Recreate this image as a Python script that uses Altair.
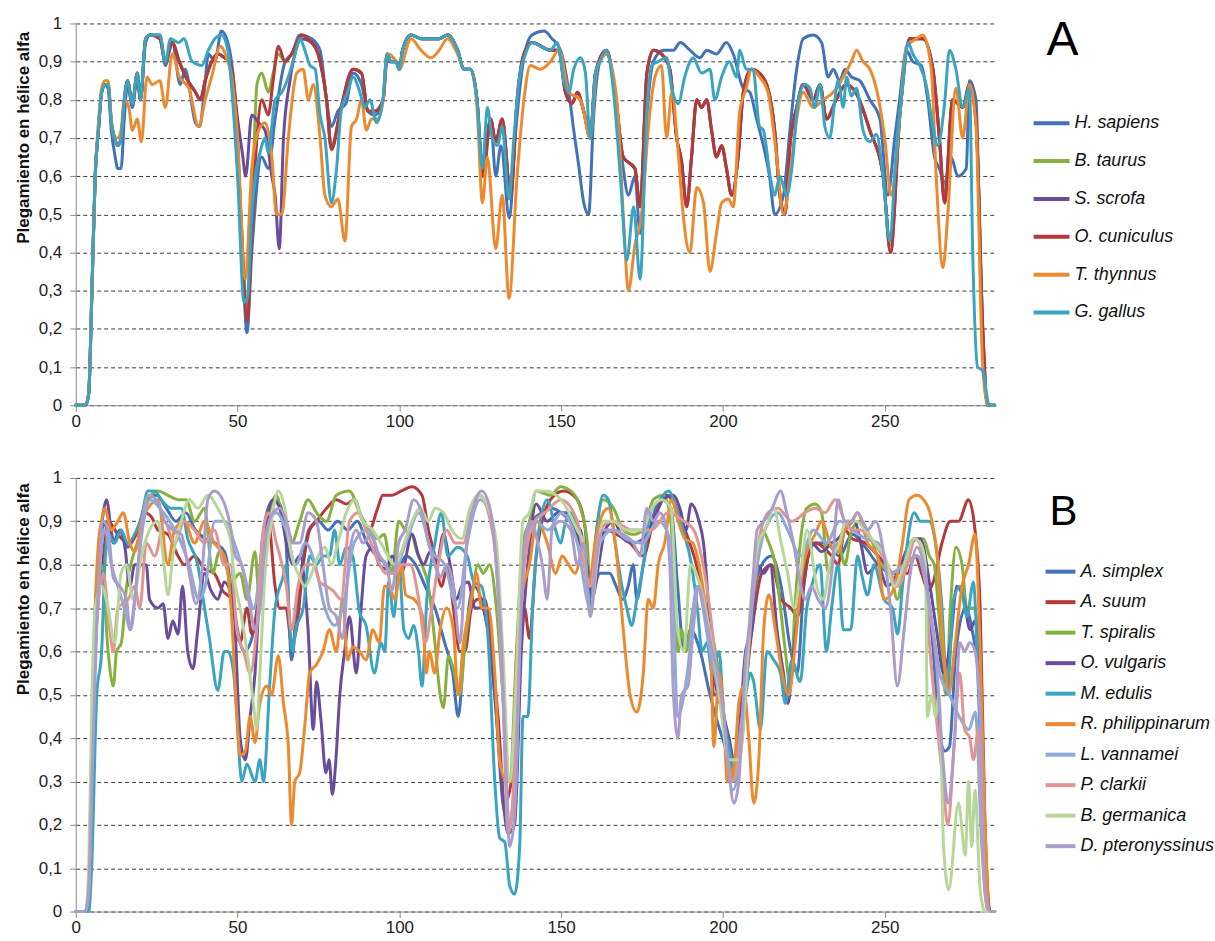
import altair as alt
import pandas as pd

Y_TITLE = "Plegamiento en hélice alfa"
X_TICKS = [0, 50, 100, 150, 200, 250]
Y_TICKS = [0, 0.1, 0.2, 0.3, 0.4, 0.5, 0.6, 0.7, 0.8, 0.9, 1]
X_MAX = 284

NAMES_A = ["H. sapiens", "B. taurus", "S. scrofa", "O. cuniculus", "T. thynnus", "G. gallus"]
COLORS_A = ["#4472B8", "#86B13F", "#6A4C9C", "#B5393A", "#EB8A2F", "#3AA4C1"]

NAMES_B = ["A. simplex", "A. suum", "T. spiralis", "O. vulgaris", "M. edulis",
           "R. philippinarum", "L. vannamei", "P. clarkii", "B. germanica", "D. pteronyssinus"]
COLORS_B = ["#4472B8", "#B5393A", "#86B13F", "#6A4C9C", "#3AA4C1",
            "#EB8A2F", "#8FAAD8", "#E29491", "#B6D69A", "#AC9CCC"]

# ---------------- Panel A ----------------
H_SAPIENS = [(0,0),(3,0),(4,0.03),(5,0.3),(6,0.6),(7,0.72),(8,0.82),(9,0.84),(10,0.83),(11,0.72),(12,0.66),(13,0.62),(14,0.62),(15,0.75),(16,0.84),(17.5,0.78),(19,0.86),(20,0.8),(21.6,0.95),(23,0.97),(26,0.97),(27.7,0.89),(29.8,0.95),(32.3,0.84),(33.8,0.88),(37,0.74),(38.3,0.73),(39.8,0.83),(41,0.92),(43,0.9),(45,0.98),(47,0.95),(49.3,0.8),(51.3,0.45),(52.9,0.19),(54.4,0.4),(57.5,0.65),(59.5,0.62),(61.6,0.75),(64.7,0.9),(66.7,0.92),(69.3,0.97),(72.9,0.96),(75.5,0.93),(77.5,0.8),(79,0.73),(81,0.77),(83.5,0.79),(85.7,0.87),(88.3,0.84),(90.3,0.77),(92.4,0.76),(95,0.8),(96.2,0.9),(97.4,0.9),(99,0.9),(100,0.88),(101,0.93),(103.6,0.97),(106.7,0.96),(109.8,0.96),(112.3,0.96),(114.9,0.97),(118,0.93),(120,0.88),(122,0.88),(124,0.8),(126,0.6),(128.2,0.75),(129.8,0.6),(131.4,0.68),(134,0.49),(136,0.72),(138.5,0.91),(141,0.97),(144.7,0.98),(147.2,0.96),(149.8,0.93),(152.4,0.82),(153.9,0.72),(155.4,0.63),(157,0.53),(158.5,0.5),(160,0.75),(162,0.9),(164,0.92),(167.2,0.78),(169.2,0.62),(170.8,0.55),(172.8,0.6),(174.4,0.45),(176.5,0.76),(178.5,0.9),(181.6,0.93),(184.7,0.93),(186.8,0.95),(189.8,0.93),(192.9,0.91),(195,0.93),(198,0.92),(201.1,0.95),(203.2,0.92),(206.3,0.83),(208.3,0.82),(210.4,0.75),(212.5,0.68),(214.4,0.6),(216,0.5),(218.7,0.55),(220.7,0.72),(222.8,0.88),(224.8,0.96),(227.9,0.97),(230.5,0.95),(232.5,0.86),(234.1,0.88),(236.1,0.85),(237.7,0.88),(239.7,0.86),(242.3,0.85),(245.4,0.8),(248.5,0.75),(251,0.55),(253.1,0.7),(254.6,0.8),(256.7,0.93),(258.7,0.9),(261.3,0.89),(263.3,0.8),(265.4,0.65),(266.9,0.62),(268.5,0.58),(270.5,0.65),(272.6,0.6),(275.2,0.62),(276.2,0.85),(278.2,0.8),(279.8,0.28),(281.3,0.02),(282.3,0),(284,0)]

B_TAURUS = [(0,0),(3,0),(4,0.03),(5,0.3),(6,0.6),(7,0.72),(8,0.82),(9,0.84),(10,0.84),(11,0.74),(12,0.7),(13,0.68),(14,0.7),(15,0.8),(16,0.85),(17.5,0.79),(19,0.87),(20,0.8),(21.6,0.96),(23,0.97),(26,0.96),(27.7,0.9),(29.8,0.95),(32,0.9),(34,0.86),(37,0.82),(38.5,0.8),(40,0.85),(42,0.9),(44,0.92),(46,0.91),(47.5,0.9),(49.3,0.8),(51,0.5),(53,0.24),(54.4,0.5),(56,0.84),(57.5,0.87),(59.5,0.82),(61,0.87),(62.6,0.92),(64.7,0.9),(66.7,0.92),(69.8,0.97),(72.9,0.95),(74.9,0.92),(77.5,0.8),(79,0.68),(82,0.78),(85.7,0.88),(88.3,0.87),(90.3,0.77),(92.4,0.77),(95,0.8),(96.2,0.92),(99,0.9),(100,0.88),(101,0.93),(103.6,0.97),(106.7,0.96),(109.8,0.96),(112.3,0.96),(114.9,0.97),(118,0.93),(120,0.88),(122,0.88),(124,0.8),(125.7,0.6),(128.2,0.75),(129.8,0.69),(131.8,0.75),(134.4,0.55),(136.4,0.8),(138.5,0.92),(141,0.95),(146.7,0.93),(149.3,0.93),(151.3,0.82),(153.4,0.79),(155,0.82),(157,0.77),(159,0.7),(160.6,0.87),(164,0.93),(166.7,0.82),(169.2,0.65),(172.8,0.62),(174.4,0.52),(176.5,0.87),(178.5,0.93),(181,0.92),(183.6,0.88),(185.7,0.7),(187.2,0.64),(188.8,0.52),(190.3,0.65),(191.9,0.8),(193.4,0.78),(195,0.8),(196.5,0.72),(198,0.65),(199.6,0.68),(201.1,0.62),(202.7,0.55),(204.7,0.65),(206.3,0.82),(208.8,0.88),(211.3,0.87),(213.9,0.83),(216,0.72),(217.6,0.55),(219.2,0.5),(220.7,0.68),(222.8,0.78),(224.8,0.84),(227.9,0.8),(230,0.84),(232,0.75),(235,0.8),(238,0.84),(241,0.82),(245.4,0.72),(249.5,0.6),(251.8,0.42),(254.6,0.75),(257.7,0.96),(261.8,0.96),(264.9,0.88),(266.9,0.7),(268.5,0.55),(271,0.8),(274.1,0.78),(276.2,0.84),(278.2,0.75),(280.3,0.2),(281.8,0),(284,0)]

S_SCROFA = [(0,0),(3,0),(4,0.03),(5,0.3),(6,0.6),(7,0.72),(8,0.82),(9,0.84),(10,0.84),(11,0.74),(12,0.7),(13,0.68),(14,0.7),(15,0.8),(16,0.85),(17.5,0.79),(19,0.87),(20,0.8),(21.6,0.96),(23,0.97),(26,0.96),(27.7,0.9),(29.8,0.95),(32,0.9),(34,0.86),(37,0.82),(38.5,0.8),(40,0.85),(42,0.9),(44,0.92),(46,0.91),(47.5,0.9),(49.3,0.8),(50.3,0.73),(51.5,0.66),(52.5,0.6),(54.4,0.76),(56.5,0.74),(58.5,0.72),(60.6,0.6),(61.6,0.55),(62.9,0.41),(64.2,0.7),(66.2,0.85),(68,0.93),(69.8,0.96),(72.9,0.95),(74.9,0.92),(77.5,0.8),(79,0.67),(82,0.78),(85.7,0.88),(88.3,0.87),(90.3,0.77),(92.4,0.77),(95,0.8),(96.2,0.92),(97.4,0.9),(99,0.9),(100,0.88),(101,0.93),(103.6,0.97),(106.7,0.96),(109.8,0.96),(112.3,0.96),(114.9,0.97),(118,0.93),(120,0.88),(122,0.88),(124,0.8),(125.7,0.6),(128.2,0.75),(129.8,0.69),(131.8,0.75),(134.4,0.55),(136.4,0.8),(138.5,0.92),(141,0.95),(146.7,0.93),(149.3,0.93),(151.3,0.82),(153.4,0.79),(155,0.82),(157,0.77),(159,0.7),(160.6,0.87),(164,0.93),(166.7,0.82),(169.2,0.65),(172.8,0.62),(174.4,0.52),(176.5,0.87),(178.5,0.93),(181,0.92),(183.6,0.88),(185.7,0.7),(187.2,0.64),(188.8,0.52),(190.3,0.65),(191.9,0.8),(193.4,0.78),(195,0.8),(196.5,0.72),(198,0.65),(199.6,0.68),(201.1,0.62),(202.7,0.55),(204.7,0.65),(206.3,0.82),(208.8,0.88),(211.3,0.87),(213.9,0.83),(216,0.72),(217.6,0.55),(219.2,0.5),(220.7,0.68),(222.8,0.78),(224.8,0.84),(227.9,0.8),(230,0.84),(232,0.75),(235,0.8),(238,0.84),(241,0.82),(245.4,0.72),(249.5,0.6),(251.8,0.4),(254.6,0.75),(257.7,0.96),(261.8,0.96),(264.9,0.88),(266.9,0.7),(268.5,0.53),(271,0.8),(274.1,0.78),(276.2,0.84),(278.2,0.75),(280.3,0.2),(281.8,0),(284,0)]

O_CUNICULUS = [(0,0),(3,0),(4,0.03),(5,0.3),(6,0.6),(7,0.72),(8,0.82),(9,0.84),(10,0.84),(11,0.74),(12,0.7),(13,0.68),(14,0.7),(15,0.8),(16,0.85),(17.5,0.79),(19,0.87),(20,0.8),(21.6,0.96),(23,0.97),(26,0.96),(27.7,0.9),(29.8,0.95),(32,0.9),(34,0.86),(37,0.82),(38.5,0.8),(40,0.85),(42,0.9),(44,0.92),(46,0.91),(47.5,0.9),(49.3,0.8),(51,0.5),(53,0.22),(54.4,0.45),(56,0.7),(57.5,0.8),(59.5,0.76),(61,0.85),(62.6,0.94),(64.7,0.9),(66.7,0.92),(69.8,0.97),(72.9,0.95),(74.9,0.92),(77.5,0.8),(79,0.67),(82,0.78),(85.7,0.88),(88.3,0.87),(90.3,0.77),(92.4,0.77),(95,0.8),(96.2,0.92),(97.4,0.9),(99,0.9),(100,0.88),(101,0.93),(103.6,0.97),(106.7,0.96),(109.8,0.96),(112.3,0.96),(114.9,0.97),(118,0.93),(120,0.88),(122,0.88),(124,0.8),(125.7,0.6),(128.2,0.75),(129.8,0.69),(131.8,0.75),(134.4,0.55),(136.4,0.8),(138.5,0.92),(141,0.95),(146.7,0.93),(149.3,0.93),(151.3,0.82),(153.4,0.79),(155,0.82),(157,0.77),(159,0.7),(160.6,0.87),(164,0.93),(166.7,0.82),(169.2,0.65),(172.8,0.62),(174.4,0.52),(176.5,0.87),(178.5,0.93),(181,0.92),(183.6,0.88),(185.7,0.7),(187.2,0.64),(188.8,0.52),(190.3,0.65),(191.9,0.8),(193.4,0.78),(195,0.8),(196.5,0.72),(198,0.65),(199.6,0.68),(201.1,0.62),(202.7,0.55),(204.7,0.65),(206.3,0.82),(208.8,0.88),(211.3,0.87),(213.9,0.83),(216,0.72),(217.6,0.55),(219.2,0.5),(220.7,0.68),(222.8,0.78),(224.8,0.84),(227.9,0.8),(230,0.84),(232,0.75),(235,0.8),(238,0.84),(241,0.82),(245.4,0.72),(249.5,0.6),(251.8,0.4),(254.6,0.75),(257.7,0.96),(261.8,0.96),(264.9,0.88),(266.9,0.7),(268.5,0.53),(271,0.8),(274.1,0.78),(276.2,0.84),(278.2,0.75),(280.3,0.2),(281.8,0),(284,0)]

T_THYNNUS = [(0,0),(3,0),(4,0.03),(5,0.3),(6,0.6),(7,0.74),(8,0.83),(9,0.85),(10,0.85),(11,0.75),(12,0.7),(13,0.7),(14,0.72),(15,0.8),(16.4,0.78),(17.5,0.72),(19,0.75),(20.3,0.69),(22,0.86),(23.6,0.84),(26,0.85),(27.7,0.78),(29.8,0.92),(32,0.86),(35,0.83),(38,0.73),(40,0.8),(42,0.86),(44.7,0.94),(47,0.9),(48,0.87),(50,0.7),(52.4,0.33),(54.4,0.62),(56.5,0.72),(58.5,0.74),(60.6,0.65),(62,0.5),(63.7,0.5),(65.7,0.7),(68.3,0.87),(70.3,0.88),(71.9,0.8),(73.4,0.84),(75.5,0.7),(77,0.55),(79,0.52),(81,0.54),(83.2,0.43),(85.2,0.73),(86.8,0.75),(88.3,0.8),(89.8,0.72),(91.4,0.75),(93.3,0.75),(95,0.8),(96.2,0.92),(99,0.9),(100,0.88),(103.6,0.96),(106.7,0.93),(109.8,0.91),(112.3,0.93),(114.9,0.96),(118,0.92),(120,0.88),(122,0.88),(124,0.78),(125.7,0.53),(127.2,0.65),(129.8,0.41),(131.8,0.55),(133.9,0.28),(136.4,0.6),(138.5,0.8),(140.5,0.89),(143.6,0.88),(146.7,0.9),(149.3,0.93),(152.4,0.82),(156,0.8),(159,0.7),(161,0.88),(164,0.92),(167.2,0.8),(169.2,0.5),(170.8,0.3),(172.8,0.42),(174.9,0.5),(177,0.73),(179,0.86),(181,0.89),(182.6,0.7),(184.2,0.82),(186.2,0.66),(187.7,0.5),(189.8,0.4),(191.9,0.57),(194,0.53),(196,0.35),(198,0.45),(199.6,0.53),(201.7,0.54),(203.2,0.52),(205.2,0.77),(207.2,0.83),(208.8,0.88),(211.3,0.86),(213.9,0.82),(216.6,0.65),(218.7,0.5),(220.7,0.6),(222.8,0.75),(224.8,0.82),(227.9,0.78),(231,0.8),(234.1,0.82),(237.2,0.86),(239.7,0.9),(241.3,0.93),(243.3,0.9),(245.4,0.88),(247.4,0.83),(250,0.7),(252,0.55),(254.6,0.75),(256.7,0.94),(259.8,0.96),(261.8,0.97),(264.4,0.88),(265.9,0.6),(268,0.36),(269.5,0.5),(272,0.83),(274.1,0.7),(276.2,0.84),(278.2,0.73),(280.3,0.1),(282,0),(284,0)]

G_GALLUS = [(0,0),(3,0),(4,0.03),(5,0.3),(6,0.6),(7,0.72),(8,0.82),(9,0.84),(10,0.84),(11,0.74),(12,0.7),(13,0.68),(14,0.7),(15,0.8),(16,0.85),(17.5,0.79),(19,0.87),(20,0.8),(21.6,0.96),(23,0.97),(26,0.97),(27.7,0.9),(29.3,0.96),(31.8,0.95),(33.4,0.96),(36,0.9),(39,0.89),(41,0.93),(43,0.96),(45,0.97),(47,0.93),(48,0.85),(50,0.6),(52,0.27),(53,0.28),(54.4,0.5),(57.5,0.68),(58.5,0.7),(59.5,0.66),(61.6,0.8),(63.7,0.82),(65.7,0.86),(67.8,0.92),(69.3,0.96),(70.8,0.93),(72.4,0.89),(74,0.88),(75.5,0.76),(77,0.7),(79,0.53),(80.6,0.62),(82,0.77),(84,0.82),(85.7,0.86),(87.8,0.82),(89.3,0.78),(90.9,0.8),(93,0.74),(94.9,0.8),(96.2,0.92),(97.4,0.9),(99,0.9),(100,0.88),(101,0.93),(103.6,0.97),(106.7,0.96),(109.8,0.96),(112.3,0.96),(114.9,0.97),(118,0.93),(120,0.88),(122,0.88),(124,0.8),(125.7,0.62),(127.2,0.78),(128.7,0.7),(130.3,0.68),(131.8,0.73),(133.9,0.54),(135.4,0.7),(137,0.85),(139,0.92),(141,0.95),(143.6,0.94),(146.7,0.93),(148.8,0.95),(150.8,0.85),(152.4,0.82),(153.9,0.88),(156,0.91),(157.5,0.87),(159,0.7),(160.6,0.87),(162,0.9),(164,0.93),(166.2,0.82),(168.3,0.6),(170.3,0.38),(172.4,0.52),(174.4,0.33),(176.5,0.77),(178,0.89),(180,0.9),(182.6,0.91),(184.2,0.83),(186.2,0.79),(188.2,0.86),(190.8,0.91),(193.4,0.87),(196,0.88),(197.5,0.8),(199.6,0.86),(202,0.9),(204.2,0.86),(205.2,0.93),(207.2,0.88),(209.3,0.88),(211.3,0.73),(212.5,0.72),(214.6,0.6),(216,0.55),(217.6,0.6),(219.7,0.55),(221.3,0.62),(223.3,0.8),(225.4,0.84),(226.9,0.83),(228.4,0.78),(230,0.84),(231.5,0.73),(233,0.7),(234.6,0.8),(235.6,0.85),(237.2,0.78),(238.2,0.86),(239.7,0.81),(241.3,0.83),(243.3,0.72),(245.4,0.69),(247.4,0.71),(249.5,0.6),(251.5,0.43),(253.6,0.67),(255.6,0.84),(257.2,0.95),(258.7,0.92),(260.8,0.89),(262.8,0.84),(264.9,0.73),(266.4,0.68),(268.5,0.79),(270,0.93),(272,0.88),(274.1,0.78),(276.2,0.83),(277.2,0.4),(278.7,0.1),(280.3,0.09),(282.3,0),(284,0)]

SERIES_A = [H_SAPIENS, B_TAURUS, S_SCROFA, O_CUNICULUS, T_THYNNUS, G_GALLUS]

# ---------------- Panel B ----------------
A_SIMPLEX = [(0,0),(3,0),(4,0.05),(5,0.35),(6,0.65),(7,0.82),(8,0.88),(10,0.9),(12,0.85),(14,0.88),(16,0.84),(18,0.86),(20,0.9),(22,0.95),(25,0.96),(28,0.93),(31,0.9),(34,0.92),(37,0.88),(40,0.86),(43,0.85),(46,0.83),(48,0.75),(50,0.65),(52,0.6),(54,0.62),(56,0.7),(58,0.88),(61,0.95),(63,0.94),(65,0.85),(66.7,0.58),(68,0.68),(70,0.8),(72,0.88),(75,0.9),(78,0.88),(81,0.9),(84,0.88),(87,0.9),(90,0.85),(93,0.82),(96,0.8),(99,0.78),(102,0.82),(105,0.8),(108,0.75),(111,0.7),(114,0.62),(116.5,0.55),(118.2,0.45),(120,0.6),(123,0.75),(126,0.7),(128,0.62),(130,0.45),(132,0.25),(134,0.2),(136,0.35),(138,0.8),(141,0.9),(144,0.92),(147,0.93),(150,0.92),(153,0.9),(156,0.88),(159,0.72),(162,0.78),(165,0.78),(167,0.75),(169,0.72),(170.7,0.75),(172.3,0.8),(173.4,0.72),(175.4,0.8),(178,0.9),(181,0.95),(184,0.93),(186,0.75),(188,0.6),(190,0.65),(193,0.6),(196,0.5),(199,0.42),(202,0.35),(204,0.3),(206,0.45),(209,0.7),(212,0.8),(215,0.82),(218,0.75),(221,0.6),(223,0.55),(225,0.75),(228,0.85),(232,0.85),(236,0.82),(240,0.87),(244,0.84),(248,0.8),(252,0.78),(256,0.8),(260,0.82),(263,0.75),(265,0.6),(266.8,0.42),(268.5,0.37),(270,0.38),(272,0.6),(275,0.7),(277,0.65),(279.5,0.5),(281,0.1),(282.5,0),(284,0)]

A_SUUM = [(0,0),(3,0),(4,0.05),(5,0.35),(6,0.6),(7,0.72),(8,0.78),(10,0.9),(13,0.87),(16.2,0.85),(19.3,0.88),(21.3,0.92),(23.4,0.91),(25.4,0.88),(28.5,0.87),(31.6,0.82),(33.6,0.8),(36.7,0.82),(39.8,0.79),(42.8,0.78),(45.4,0.74),(48,0.72),(50.8,0.62),(52.9,0.7),(54.4,0.64),(55.9,0.68),(58,0.85),(59.5,0.9),(61.6,0.75),(63,0.7),(65,0.7),(66.7,0.62),(68.2,0.65),(70.3,0.8),(72.3,0.88),(74.4,0.9),(77.5,0.93),(80.5,0.95),(83.6,0.94),(86.1,0.95),(88.7,0.9),(90.7,0.88),(93.3,0.93),(94.9,0.96),(97.7,0.96),(100.6,0.97),(103.9,0.98),(107,0.96),(109,0.88),(111,0.82),(113,0.75),(115,0.8),(116.7,0.7),(118.7,0.6),(120.3,0.6),(122.3,0.7),(124.3,0.72),(126.4,0.72),(128.5,0.6),(130.5,0.45),(132.6,0.25),(134.6,0.3),(136.7,0.6),(138.7,0.7),(140.2,0.63),(142.3,0.82),(146.7,0.95),(150.8,0.97),(155,0.95),(157.5,0.88),(159,0.7),(161.6,0.85),(164,0.88),(167.2,0.87),(171.3,0.85),(175.4,0.82),(178.5,0.9),(182.6,0.96),(185.7,0.93),(188.8,0.87),(191.8,0.8),(194,0.72),(197,0.55),(200,0.45),(203,0.32),(206,0.45),(209,0.65),(212,0.78),(215,0.8),(218,0.72),(221,0.7),(223,0.68),(226.4,0.82),(228.5,0.85),(233.6,0.82),(235.6,0.8),(237.7,0.88),(240,0.86),(244,0.85),(248,0.82),(253,0.78),(257,0.78),(259.4,0.82),(261.4,0.78),(263.5,0.74),(265,0.76),(267.7,0.85),(270.3,0.9),(272.8,0.9),(275.9,0.95),(277.9,0.88),(279.5,0.7),(281,0.2),(282.6,0),(284,0)]

T_SPIRALIS = [(0,0),(3,0),(4,0.05),(5,0.4),(6,0.7),(7,0.78),(8,0.8),(10,0.6),(11.6,0.52),(12.6,0.6),(14.1,0.62),(15.7,0.75),(17.7,0.82),(20.3,0.88),(22.3,0.95),(25.4,0.97),(28.5,0.96),(31.6,0.95),(34.1,0.95),(36.7,0.9),(39.8,0.93),(42.3,0.78),(44.4,0.83),(46.4,0.8),(48,0.76),(50.8,0.78),(52.9,0.72),(55.4,0.83),(56.9,0.7),(59,0.88),(62,0.96),(64.1,0.9),(66.7,0.85),(69.2,0.9),(71.8,0.95),(74.4,0.92),(77.5,0.9),(80.5,0.96),(84.6,0.97),(87.7,0.92),(90.7,0.88),(93.3,0.86),(95.3,0.87),(97.7,0.78),(99.8,0.9),(101.8,0.88),(103.9,0.87),(105.4,0.83),(107,0.8),(109,0.75),(111,0.62),(112.6,0.5),(113.6,0.47),(115.2,0.59),(116.7,0.56),(118.7,0.5),(120.3,0.62),(122.3,0.72),(124.3,0.8),(125.9,0.78),(127.9,0.8),(130,0.7),(132,0.5),(134.1,0.3),(136.2,0.6),(138.2,0.85),(140.2,0.9),(142.3,0.97),(146.7,0.96),(149.8,0.98),(153,0.97),(156,0.93),(158.1,0.85),(159,0.72),(160.5,0.85),(163,0.95),(166.2,0.93),(169.2,0.88),(172.3,0.87),(175.4,0.88),(178.5,0.95),(181.5,0.96),(183.6,0.92),(185.1,0.75),(186.1,0.6),(187.2,0.65),(188.6,0.6),(190.8,0.7),(192.5,0.75),(194.7,0.7),(198.8,0.55),(201.9,0.35),(203.9,0.3),(207,0.55),(210,0.75),(212,0.88),(214.2,0.85),(216.2,0.8),(217.8,0.7),(219.3,0.6),(220.8,0.52),(222.4,0.72),(223.9,0.85),(225.9,0.93),(228.5,0.94),(230.5,0.92),(232.6,0.78),(235.6,0.85),(237.7,0.8),(239.8,0.88),(242.6,0.9),(245.7,0.86),(248.8,0.8),(251.8,0.78),(253.9,0.72),(256,0.8),(259.1,0.86),(262,0.86),(263.8,0.82),(265.3,0.8),(266.8,0.68),(268.9,0.5),(270.3,0.7),(272,0.84),(273.9,0.8),(275.4,0.7),(277.4,0.7),(279,0.65),(280.5,0.2),(282,0),(284,0)]

O_VULGARIS = [(0,0),(3,0),(4,0.05),(5,0.4),(6,0.65),(7,0.8),(8.5,0.92),(9.5,0.95),(11.6,0.85),(13.6,0.88),(15.2,0.84),(16.7,0.75),(18.2,0.8),(20.3,0.8),(21.8,0.8),(22.8,0.72),(25.4,0.7),(27,0.71),(28.5,0.63),(30,0.67),(31.6,0.64),(33,0.75),(34.6,0.6),(36.2,0.56),(37.7,0.65),(39.8,0.78),(41.8,0.74),(43.9,0.72),(45.9,0.76),(48.8,0.7),(50.8,0.4),(52.4,0.35),(53.9,0.45),(55.4,0.55),(56.9,0.75),(59,0.9),(61,0.95),(63.1,0.93),(65.1,0.85),(67.2,0.8),(69.2,0.82),(71.8,0.65),(73.4,0.42),(74.4,0.53),(75.8,0.44),(77.3,0.32),(78.3,0.35),(79.3,0.27),(80.3,0.34),(81.6,0.5),(83.1,0.6),(84.6,0.68),(86.7,0.55),(88.2,0.7),(89.7,0.82),(91.8,0.84),(93.8,0.8),(96,0.79),(97.7,0.82),(100.6,0.78),(103.9,0.87),(106,0.82),(107.5,0.8),(109.5,0.83),(111.5,0.8),(113.6,0.87),(115.7,0.8),(117.7,0.72),(119.3,0.75),(121.3,0.76),(123.4,0.7),(125.4,0.7),(127.5,0.64),(129.5,0.5),(131.6,0.3),(133.6,0.18),(135.6,0.2),(137.7,0.6),(139.7,0.8),(142.3,0.94),(145.7,0.9),(149,0.92),(151.9,0.92),(154.4,0.88),(155.9,0.85),(158,0.8),(159.5,0.72),(161.6,0.8),(163.6,0.88),(166.2,0.9),(169.2,0.86),(172.3,0.85),(175.4,0.86),(178.5,0.9),(181.5,0.95),(184.6,0.96),(186.7,0.93),(188.6,0.88),(190.2,0.94),(192.6,0.9),(194,0.85),(195.6,0.7),(197.2,0.5),(198.8,0.5),(200.3,0.45),(201.9,0.4),(203.4,0.35),(205.4,0.45),(207,0.6),(209,0.65),(210.6,0.8),(212.6,0.78),(214.6,0.8),(216.7,0.65),(218.7,0.55),(220.1,0.48),(221.8,0.6),(223.4,0.7),(225.4,0.82),(227.4,0.85),(230.5,0.83),(233.6,0.85),(235.6,0.86),(237.7,0.88),(240.6,0.9),(242.6,0.85),(244.7,0.78),(247.8,0.8),(250.8,0.75),(253.9,0.78),(257.9,0.85),(261,0.86),(264,0.75),(266,0.65),(268.2,0.55),(270.3,0.62),(272.3,0.75),(274.4,0.72),(276.4,0.65),(277.9,0.67),(279.5,0.55),(281,0.1),(282.6,0),(284,0)]

M_EDULIS = [(0,0),(3,0),(4,0),(4.9,0.1),(6.5,0.5),(8,0.6),(9,0.8),(10,0.87),(12,0.85),(14,0.88),(16,0.85),(18.2,0.87),(20.3,0.91),(22.3,0.97),(24.4,0.97),(26.4,0.95),(29.5,0.93),(32.6,0.93),(34.6,0.86),(37.7,0.8),(39.8,0.7),(41.3,0.63),(43.9,0.51),(45.9,0.6),(47,0.6),(48.8,0.55),(49.8,0.45),(51.3,0.3),(52.9,0.34),(55.4,0.3),(56.9,0.35),(58,0.3),(60,0.53),(61.6,0.7),(64,0.77),(65,0.8),(66,0.67),(67,0.6),(68,0.65),(70.3,0.7),(72.3,0.82),(74.4,0.8),(76.4,0.82),(78.4,0.82),(80,0.88),(81.6,0.8),(83.6,0.84),(85.6,0.82),(87.7,0.69),(89.7,0.66),(92.3,0.55),(94.3,0.62),(95.5,0.6),(96.7,0.76),(98.3,0.68),(99.9,0.8),(101.4,0.65),(102.9,0.63),(104.4,0.66),(105.9,0.6),(107,0.52),(108.5,0.72),(111,0.85),(113,0.92),(115,0.82),(118,0.84),(121,0.82),(123,0.76),(125.4,0.75),(127.5,0.62),(129.5,0.3),(131,0.17),(132.6,0.16),(134.1,0.06),(135.6,0.04),(137.2,0.15),(138.2,0.45),(139.7,0.45),(141.2,0.7),(142.8,0.86),(145.7,0.95),(148.3,0.88),(149.8,0.85),(151.4,0.9),(153,0.92),(155,0.88),(157,0.85),(159,0.7),(161,0.88),(163,0.96),(164.6,0.95),(166.7,0.85),(168.8,0.75),(170.3,0.7),(171.8,0.66),(173.4,0.72),(175.4,0.8),(177.5,0.92),(180.5,0.95),(183.1,0.97),(185.7,0.93),(187.7,0.88),(190.3,0.8),(192.1,0.7),(193.6,0.6),(195.1,0.62),(196.7,0.55),(198.8,0.6),(200.3,0.45),(201.9,0.38),(203.4,0.33),(204.9,0.4),(207,0.5),(208.5,0.55),(209.5,0.53),(211.6,0.42),(213.6,0.6),(215.7,0.58),(217.8,0.55),(219.3,0.48),(221.3,0.58),(223.9,0.53),(225.9,0.7),(227.4,0.75),(230,0.8),(232,0.6),(233.6,0.7),(235.6,0.8),(237.2,0.65),(239.5,0.65),(241.6,0.82),(243.1,0.77),(244.7,0.73),(246.7,0.8),(249.8,0.72),(252.4,0.7),(254,0.64),(255.5,0.75),(257,0.85),(259.1,0.92),(261,0.9),(263.6,0.9),(265.7,0.85),(267.7,0.7),(269.3,0.5),(271.3,0.72),(273.4,0.75),(275.4,0.68),(277.4,0.76),(279,0.5),(280,0.3),(281.6,0.02),(282.6,0),(284,0)]

R_PHILIPPINARUM = [(0,0),(3,0),(4,0.05),(5,0.4),(6,0.7),(7,0.85),(8,0.9),(9,0.93),(11,0.88),(13,0.9),(14.7,0.92),(16.7,0.85),(18.2,0.83),(20.3,0.9),(22.3,0.93),(25.4,0.95),(28.5,0.8),(30.5,0.88),(33.6,0.9),(36.7,0.85),(39.8,0.9),(42.8,0.85),(45.9,0.82),(48,0.7),(49.8,0.45),(50.8,0.36),(52.4,0.37),(53.9,0.45),(55.4,0.39),(56.9,0.48),(59,0.52),(60.5,0.5),(62.6,0.59),(64.2,0.48),(65.7,0.38),(66.7,0.2),(67.7,0.3),(69.2,0.32),(70.8,0.43),(72.3,0.55),(74.4,0.57),(76.4,0.6),(78.4,0.65),(80.5,0.6),(82.5,0.72),(84,0.58),(85.6,0.61),(87.7,0.6),(89.7,0.58),(91.8,0.65),(93.8,0.62),(95.4,0.75),(96.7,0.75),(98.6,0.72),(100.6,0.8),(102,0.73),(104.6,0.72),(107.2,0.68),(108.3,0.55),(109.3,0.6),(110.9,0.55),(112.6,0.65),(114.6,0.7),(116.7,0.65),(118.2,0.5),(119.8,0.62),(121.8,0.7),(123.9,0.78),(125.4,0.7),(127.5,0.7),(129.5,0.55),(131,0.35),(133.1,0.3),(134.6,0.3),(136.2,0.58),(137.7,0.72),(140.2,0.8),(142.5,0.9),(145.7,0.85),(148.3,0.78),(150.3,0.82),(152.3,0.8),(154.4,0.78),(156.4,0.82),(158.5,0.75),(160.5,0.85),(163,0.92),(164.6,0.93),(167.2,0.82),(169.2,0.65),(171.3,0.5),(173.4,0.46),(175.4,0.55),(176.9,0.72),(178.5,0.7),(180,0.8),(182,0.85),(184.1,0.95),(186.2,0.9),(188.2,0.86),(190.7,0.85),(192.6,0.8),(194.7,0.7),(196.2,0.6),(197.2,0.38),(198.8,0.55),(200.3,0.45),(201.3,0.3),(203.4,0.33),(204.9,0.48),(206.4,0.52),(208,0.4),(209.5,0.25),(211.1,0.35),(212.6,0.65),(214.2,0.73),(216.2,0.65),(218.3,0.55),(220.3,0.5),(222.4,0.62),(224.4,0.78),(226.4,0.84),(228.5,0.87),(230.5,0.9),(233.6,0.84),(235.6,0.83),(237.7,0.88),(239.8,0.9),(241.6,0.92),(244.7,0.85),(247.8,0.82),(249.8,0.72),(251.8,0.73),(253.4,0.76),(255.5,0.85),(257.5,0.95),(260,0.96),(262,0.95),(264.6,0.9),(266.2,0.82),(268.2,0.6),(269.7,0.5),(271.8,0.62),(273.9,0.75),(275.9,0.8),(277.9,0.87),(279.5,0.6),(281,0.2),(282.6,0),(284,0)]

L_VANNAMEI = [(0,0),(3,0),(4,0.05),(5,0.4),(7,0.75),(9,0.88),(11,0.8),(13,0.75),(15,0.7),(17,0.65),(19,0.78),(21,0.9),(23,0.95),(26,0.93),(29,0.9),(32,0.86),(35,0.8),(38,0.72),(40,0.75),(43,0.9),(46,0.9),(49,0.85),(52,0.78),(55,0.7),(58,0.85),(62,0.92),(65,0.88),(68,0.8),(71,0.85),(74,0.8),(77,0.7),(80,0.66),(83,0.72),(86,0.85),(90,0.88),(94,0.82),(98,0.78),(102,0.85),(106,0.92),(110,0.83),(114,0.8),(118,0.7),(121,0.85),(125,0.95),(128,0.92),(130,0.8),(132,0.5),(134,0.2),(136,0.3),(138,0.8),(142,0.9),(146,0.88),(150,0.92),(155,0.85),(159,0.7),(162,0.85),(166,0.88),(170,0.86),(175,0.85),(180,0.9),(184,0.85),(186,0.45),(189,0.55),(192,0.75),(196,0.6),(200,0.45),(203,0.28),(206,0.4),(209,0.7),(213,0.88),(217,0.92),(220,0.88),(224,0.82),(228,0.88),(232,0.85),(236,0.9),(240,0.88),(244,0.86),(248,0.85),(252,0.78),(256,0.8),(260,0.82),(264,0.7),(267,0.55),(270,0.5),(273,0.45),(276,0.42),(278,0.46),(280,0.15),(282,0),(284,0)]

P_CLARKII = [(0,0),(3,0),(4,0.05),(5,0.35),(6,0.6),(7,0.72),(8.5,0.78),(10.5,0.65),(11.6,0.6),(13,0.7),(16.2,0.72),(18.2,0.75),(19.8,0.7),(21.8,0.85),(24.4,0.82),(27.4,0.9),(30.5,0.85),(33.6,0.9),(36.7,0.88),(39.8,0.85),(42.8,0.88),(45.9,0.8),(48,0.8),(49.8,0.65),(51.9,0.6),(53.9,0.55),(55.9,0.65),(58,0.88),(59.5,0.92),(62,0.85),(65.1,0.75),(66.7,0.65),(68.7,0.75),(71.3,0.8),(73.4,0.8),(75.4,0.76),(77.5,0.75),(79.5,0.74),(82,0.72),(84.6,0.9),(87.2,0.92),(89.7,0.88),(92.8,0.82),(96,0.78),(98.8,0.78),(100.6,0.8),(103.4,0.8),(106,0.72),(108,0.62),(110,0.7),(112,0.8),(114.6,0.88),(117.2,0.85),(119.8,0.85),(122.3,0.92),(124.9,0.96),(127.5,0.92),(130,0.8),(132,0.5),(133.6,0.18),(135,0.25),(136.7,0.6),(138.7,0.8),(141.8,0.9),(145,0.92),(150,0.95),(155,0.9),(159,0.75),(162,0.88),(166,0.9),(172,0.88),(178,0.88),(183,0.92),(188,0.9),(191,0.88),(195,0.75),(199,0.5),(203,0.3),(206,0.45),(210,0.8),(214,0.92),(217,0.93),(221.3,0.9),(225.4,0.92),(228.5,0.93),(231.6,0.92),(234.7,0.95),(237.7,0.9),(239.8,0.88),(242.6,0.88),(246.7,0.85),(250.8,0.8),(253.9,0.75),(257,0.8),(259.4,0.86),(262,0.82),(263.8,0.62),(265.9,0.45),(268,0.3),(269.5,0.2),(271.6,0.4),(273.2,0.55),(274.7,0.42),(276.3,0.4),(277.4,0.35),(279,0.42),(280.5,0.1),(282,0),(284,0)]

B_GERMANICA = [(0,0),(3,0),(4,0.1),(5,0.5),(6,0.7),(8,0.75),(10,0.7),(12,0.62),(14,0.78),(15.7,0.8),(17.7,0.72),(20.3,0.82),(22.8,0.88),(25.4,0.9),(27,0.82),(28.5,0.73),(30,0.82),(32.6,0.9),(35.1,0.95),(37.7,0.93),(40.8,0.96),(43.9,0.93),(45.9,0.9),(48,0.85),(48.8,0.78),(50.8,0.7),(52.9,0.6),(54.9,0.48),(55.9,0.42),(56.9,0.55),(58.5,0.78),(60.5,0.9),(62.6,0.97),(64.6,0.93),(66.7,0.82),(68.7,0.78),(70.8,0.75),(72.9,0.78),(74.9,0.82),(77,0.84),(79,0.8),(81,0.85),(83.6,0.92),(86.1,0.95),(88.7,0.9),(91.8,0.88),(94.3,0.85),(98.8,0.8),(100.6,0.83),(103.9,0.9),(106.5,0.93),(109,0.9),(111,0.93),(113.6,0.92),(116.2,0.88),(119.3,0.86),(121.8,0.93),(124.4,0.96),(127.5,0.93),(130,0.85),(132,0.6),(134.1,0.3),(136.2,0.55),(138.2,0.9),(140.2,0.92),(142.3,0.97),(145,0.97),(150,0.95),(155,0.88),(157,0.85),(159,0.68),(161,0.8),(163,0.9),(166,0.9),(170,0.88),(175,0.88),(178,0.93),(181,0.95),(184,0.93),(186,0.65),(188,0.6),(190,0.8),(193,0.75),(198,0.55),(202,0.35),(205,0.35),(209,0.75),(211,0.85),(213,0.88),(215.7,0.93),(218,0.85),(220,0.78),(222,0.7),(224,0.78),(226,0.88),(229,0.75),(231,0.72),(233,0.8),(236,0.85),(238,0.9),(241,0.9),(244,0.88),(247,0.85),(250,0.82),(253,0.75),(256,0.8),(259,0.86),(261,0.85),(262.6,0.8),(263.2,0.45),(264.6,0.5),(265.7,0.45),(266.8,0.5),(268.2,0.15),(269.8,0.05),(272.8,0.25),(274.9,0.13),(275.9,0.3),(276.9,0.15),(277.9,0.28),(279.5,0.05),(281,0),(284,0)]

D_PTERONYSSINUS = [(0,0),(3,0),(4,0.05),(5,0.3),(7,0.75),(8.5,0.9),(10,0.88),(11.6,0.77),(13.6,0.75),(15.7,0.72),(16.7,0.65),(18.2,0.72),(20.3,0.88),(22.3,0.96),(24.9,0.95),(27.5,0.9),(30,0.88),(32.6,0.87),(34.6,0.8),(37.2,0.71),(39.2,0.8),(40.8,0.95),(42.8,0.97),(45.4,0.95),(48,0.88),(49.3,0.82),(51.3,0.8),(53.9,0.7),(55.4,0.65),(56.9,0.7),(58.5,0.85),(61,0.92),(63.1,0.93),(65.1,0.9),(67.2,0.85),(69.2,0.85),(71.8,0.92),(74.4,0.9),(76.4,0.8),(78.4,0.7),(80.5,0.68),(82.5,0.63),(84.6,0.83),(86.7,0.88),(88.7,0.85),(91.3,0.87),(93.8,0.82),(96,0.8),(97.7,0.74),(99.8,0.85),(101.8,0.88),(104.4,0.95),(107,0.92),(109,0.85),(111,0.8),(112.6,0.77),(114.6,0.8),(116.7,0.75),(118.7,0.62),(120.8,0.85),(122.8,0.93),(125.4,0.97),(128,0.93),(130,0.8),(131.6,0.6),(133.1,0.3),(134.1,0.15),(135.6,0.22),(137.2,0.6),(138.7,0.85),(140.8,0.9),(142.8,0.85),(144.2,0.8),(145.7,0.72),(147.2,0.88),(149.8,0.9),(153,0.88),(155,0.8),(157,0.85),(159,0.68),(161,0.82),(163,0.88),(166.2,0.88),(169.2,0.87),(172.3,0.85),(174.4,0.82),(176.5,0.93),(178.5,0.9),(180.5,0.92),(182.1,0.9),(183.6,0.8),(184.6,0.52),(186.1,0.4),(187.2,0.5),(189.2,0.52),(190.8,0.65),(192.6,0.75),(194.1,0.7),(196.2,0.62),(198.3,0.55),(200.3,0.45),(201.9,0.32),(203.4,0.25),(204.9,0.3),(207,0.58),(208.5,0.68),(210.6,0.88),(212.6,0.9),(215.2,0.93),(217.8,0.97),(219.7,0.92),(221.8,0.85),(223.4,0.78),(225.4,0.72),(227.4,0.75),(229.4,0.72),(231.6,0.7),(233.6,0.78),(235.6,0.95),(237.7,0.9),(239.8,0.9),(241.6,0.92),(244.7,0.88),(247.2,0.9),(249.8,0.82),(251.8,0.7),(253.9,0.52),(256,0.65),(257.9,0.78),(260,0.84),(262,0.8),(263.8,0.7),(265.9,0.58),(268,0.35),(269.5,0.25),(271.6,0.4),(273.2,0.62),(274.7,0.6),(276.3,0.62),(277.9,0.6),(279.5,0.45),(281,0.05),(282.6,0),(284,0)]

SERIES_B = [A_SIMPLEX, A_SUUM, T_SPIRALIS, O_VULGARIS, M_EDULIS,
            R_PHILIPPINARUM, L_VANNAMEI, P_CLARKII, B_GERMANICA, D_PTERONYSSINUS]


def to_frame(names, series):
    rows = []
    for k, (name, pts) in enumerate(zip(names, series)):
        for x, y in pts:
            rows.append({"species": name, "k": k, "x": x, "y": y})
    return pd.DataFrame(rows)


LABEL_EXPR = ("datum.value >= 0.999 ? '1' : datum.value <= 0.001 ? '0' : "
              "replace(format(datum.value, '.1f'), '.', ',')")

FONT = "Liberation Sans"


def panel(names, colors, series, h, letter, letter_size, letter_x, letter_y,
          leg_x, leg_y, sym_size, row_pad, title_y):
    df = to_frame(names, series)
    y_axis = alt.Axis(values=Y_TICKS, labelExpr=LABEL_EXPR, title=Y_TITLE,
                      titleFontWeight="bold", titleFontSize=17, titleFont=FONT,
                      titleAnchor="end", titleY=title_y, titlePadding=6, titleColor="#111",
                      grid=True, gridDash=[4, 3], gridColor="#3a3a3a", gridWidth=1,
                      tickSize=6, tickColor="#8a8a8a", domainColor="#8a8a8a",
                      labelFontSize=17, labelFont=FONT, labelColor="#222", labelPadding=8)
    x_axis = alt.Axis(values=X_TICKS, title=None, grid=False, tickSize=6,
                      tickColor="#8a8a8a", domainColor="#8a8a8a", labelFontSize=17,
                      labelFont=FONT, labelColor="#222", labelPadding=2, labelFlush=False)
    lines = alt.Chart(df).mark_line(strokeWidth=3, interpolate="monotone",
                                    strokeCap="round", strokeJoin="round").encode(
        x=alt.X("x:Q", scale=alt.Scale(domain=[0, X_MAX], nice=False, zero=False), axis=x_axis),
        y=alt.Y("y:Q", scale=alt.Scale(domain=[0, 1], nice=False), axis=y_axis),
        color=alt.Color("species:N", sort=names,
                        scale=alt.Scale(domain=names, range=colors),
                        legend=alt.Legend(title=None, orient="none", legendX=leg_x, legendY=leg_y,
                                          symbolType="stroke", symbolStrokeWidth=4,
                                          symbolSize=sym_size, labelFontSize=18,
                                          labelFontStyle="italic", labelFont=FONT,
                                          labelColor="#111", rowPadding=row_pad,
                                          labelOffset=3, padding=0, labelLimit=300)),
        detail="k:O",
    )
    tag = alt.Chart(pd.DataFrame({"t": [letter]})).mark_text(
        fontSize=letter_size, font=FONT, align="center", baseline="middle", color="#000"
    ).encode(text="t:N", x=alt.value(letter_x), y=alt.value(letter_y))
    return alt.layer(lines, tag).properties(width=922, height=h)


chart_a = panel(NAMES_A, COLORS_A, SERIES_A, 383, "A", 48, 990, 18,
                959, 80, 1296, 9, 8)
chart_b = panel(NAMES_B, COLORS_B, SERIES_B, 435, "B", 42, 991, 34,
                971, 77, 900, 4.6, 5)

chart = alt.vconcat(chart_a, chart_b, spacing=40).resolve_scale(
    color="independent"
).configure_view(stroke=None).properties(
    padding={"left": 14, "top": 13, "right": 0, "bottom": 0},
    background="white",
)

chart.save("out.html", embed_options={"renderer": "svg", "actions": False})
